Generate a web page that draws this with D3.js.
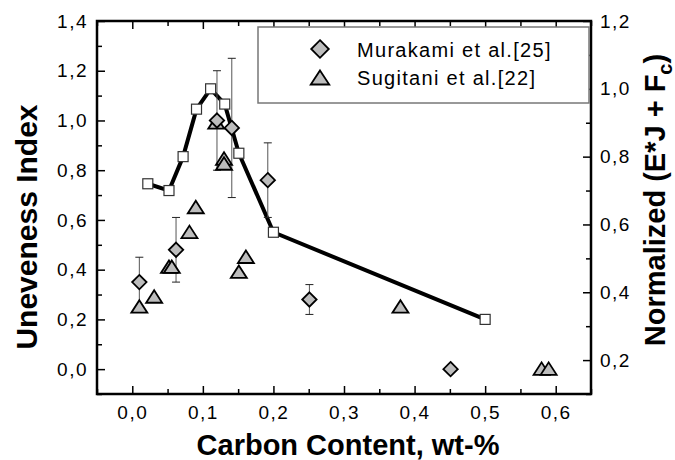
<!DOCTYPE html>
<html lang="en">
<head>
<meta charset="utf-8">
<title>Uneveness index vs carbon content</title>
<script src="https://cdn.jsdelivr.net/npm/d3@7"></script>
<style>
  body { margin: 0; background: #fff; }
  text { font-family: "Liberation Sans", Arial, sans-serif; }
</style>
</head>
<body>
<div id="chart"></div>
<script>
// normalized (E*J + Fc), right axis
var lineX = [0.022, 0.052, 0.072, 0.091, 0.111, 0.131, 0.151, 0.2, 0.5];
var lineY = [0.72, 0.70, 0.80, 0.94, 1.0, 0.955, 0.81, 0.577, 0.32];

// Murakami et al.[25], left axis
var murakamiX = [0.01, 0.062, 0.12, 0.141, 0.192, 0.251, 0.451];
var murakamiY = [0.35, 0.48, 1.0, 0.97, 0.76, 0.28, 0.0];
var murakamiErr = [0.1, 0.13, 0.2, 0.28, 0.15, 0.06, 0];

// Sugitani et al.[22], left axis
var sugitaniX = [0.01, 0.031, 0.052, 0.056, 0.081, 0.09, 0.119, 0.13, 0.13, 0.151, 0.161, 0.38, 0.58, 0.59];
var sugitaniY = [0.25, 0.29, 0.41, 0.41, 0.55, 0.65, 0.99, 0.845, 0.825, 0.39, 0.45, 0.25, 0.0, 0.0];

var xTicks = [0, 0.1, 0.2, 0.3, 0.4, 0.5, 0.6];
var xMinor = [-0.05, 0.05, 0.15, 0.25, 0.35, 0.45, 0.55, 0.65];
var yLeftTicks = [0, 0.2, 0.4, 0.6, 0.8, 1.0, 1.2, 1.4];
var yLeftMinor = [-0.1, 0.1, 0.3, 0.5, 0.7, 0.9, 1.1, 1.3];
var yRightTicks = [0.2, 0.4, 0.6, 0.8, 1.0, 1.2];
var yRightMinor = [0.1, 0.3, 0.5, 0.7, 0.9, 1.1];

var legendLabels = ['Murakami et al.[25]', 'Sugitani et al.[22]'];

var width = 675, height = 460;
var plotL = 97, plotR = 591, plotT = 21, plotB = 394;

var svg = d3.select('#chart').append('svg')
  .attr('width', width).attr('height', height);

var x = d3.scaleLinear().domain([-0.05, 0.65]).range([plotL, plotR]);
var yL = d3.scaleLinear().domain([-0.1, 1.4]).range([plotB, plotT]);
var yR = d3.scaleLinear().domain([0.1, 1.2]).range([plotB, plotT]);

var comma = function(d) { return d3.format('.1f')(d).replace('.', ','); };

function diamondPath(r) { return 'M0,' + (-r) + 'L' + r + ',0L0,' + r + 'L' + (-r) + ',0Z'; }
function trianglePath(w, h) { return 'M0,' + (-h / 2 - 0.5) + 'L' + w / 2 + ',' + (h / 2 - 0.5) + 'L' + (-w / 2) + ',' + (h / 2 - 0.5) + 'Z'; }
var diamond = diamondPath(7.2);
var triangle = trianglePath(16, 12.5);

function styleAxis(g) {
  g.select('.domain').remove();
  g.selectAll('.tick line').attr('stroke', '#000').attr('stroke-width', 1.5);
  g.selectAll('.tick text').attr('fill', '#000')
    .style('font-size', '19px').style('letter-spacing', '1.5px');
}

// bottom
svg.append('g').attr('transform', 'translate(0,' + plotB + ')')
  .call(d3.axisBottom(x).tickValues(xTicks).tickSize(-8).tickPadding(12).tickFormat(comma))
  .call(styleAxis);
svg.append('g').attr('transform', 'translate(0,' + plotB + ')')
  .call(d3.axisBottom(x).tickValues(xMinor).tickSize(-5).tickFormat(''))
  .call(styleAxis);
// top
svg.append('g').attr('transform', 'translate(0,' + plotT + ')')
  .call(d3.axisTop(x).tickValues(xTicks).tickSize(-8).tickFormat(''))
  .call(styleAxis);
svg.append('g').attr('transform', 'translate(0,' + plotT + ')')
  .call(d3.axisTop(x).tickValues(xMinor).tickSize(-5).tickFormat(''))
  .call(styleAxis);
// left
svg.append('g').attr('transform', 'translate(' + plotL + ',0)')
  .call(d3.axisLeft(yL).tickValues(yLeftTicks).tickSize(-8).tickPadding(9).tickFormat(comma))
  .call(styleAxis);
svg.append('g').attr('transform', 'translate(' + plotL + ',0)')
  .call(d3.axisLeft(yL).tickValues(yLeftMinor).tickSize(-5).tickFormat(''))
  .call(styleAxis);
// right
svg.append('g').attr('transform', 'translate(' + plotR + ',0)')
  .call(d3.axisRight(yR).tickValues(yRightTicks).tickSize(-8).tickPadding(9).tickFormat(comma))
  .call(styleAxis);
svg.append('g').attr('transform', 'translate(' + plotR + ',0)')
  .call(d3.axisRight(yR).tickValues(yRightMinor).tickSize(-5).tickFormat(''))
  .call(styleAxis);

// frame
svg.append('rect')
  .attr('x', plotL).attr('y', plotT)
  .attr('width', plotR - plotL).attr('height', plotB - plotT)
  .attr('fill', 'none').attr('stroke', '#000').attr('stroke-width', 2.5);

// legend box
svg.append('rect')
  .attr('x', 258).attr('y', 27).attr('width', 331).attr('height', 76)
  .attr('fill', '#fff').attr('stroke', '#777').attr('stroke-width', 1.5);

// normalized line
var lineData = lineX.map(function(d, i) { return [d, lineY[i]]; });
svg.append('path')
  .datum(lineData)
  .attr('fill', 'none').attr('stroke', '#000').attr('stroke-width', 4)
  .attr('stroke-linejoin', 'round')
  .attr('d', d3.line().x(function(d) { return x(d[0]); }).y(function(d) { return yR(d[1]); }));

// error bars for Murakami
var murakami = murakamiX.map(function(d, i) { return { x: d, y: murakamiY[i], e: murakamiErr[i] }; });
var bars = svg.append('g').attr('stroke', '#555').attr('stroke-width', 1);
murakami.filter(function(d) { return d.e > 0; }).forEach(function(d) {
  var cx = x(d.x);
  bars.append('line').attr('x1', cx).attr('x2', cx)
    .attr('y1', yL(d.y + d.e)).attr('y2', yL(d.y - d.e));
  [d.y + d.e, d.y - d.e].forEach(function(v) {
    bars.append('line').attr('x1', cx - 4).attr('x2', cx + 4)
      .attr('y1', yL(v)).attr('y2', yL(v)).attr('stroke', '#222');
  });
});

// Sugitani triangles
var sugitani = sugitaniX.map(function(d, i) { return { x: d, y: sugitaniY[i] }; });
svg.append('g').selectAll('path').data(sugitani).enter().append('path')
  .attr('d', triangle)
  .attr('transform', function(d) { return 'translate(' + x(d.x) + ',' + yL(d.y) + ')'; })
  .attr('fill', '#bdbdbd').attr('stroke', '#000').attr('stroke-width', 1.8);

// Murakami diamonds
svg.append('g').selectAll('path').data(murakami).enter().append('path')
  .attr('d', diamond)
  .attr('transform', function(d) { return 'translate(' + x(d.x) + ',' + yL(d.y) + ')'; })
  .attr('fill', '#bdbdbd').attr('stroke', '#000').attr('stroke-width', 1.8);

// squares on the line
svg.append('g').selectAll('rect').data(lineData).enter().append('rect')
  .attr('x', function(d) { return x(d[0]) - 5; })
  .attr('y', function(d) { return yR(d[1]) - 5; })
  .attr('width', 10).attr('height', 10)
  .attr('fill', '#fff').attr('stroke', '#333').attr('stroke-width', 1.2);

// legend entries
svg.append('path').attr('d', diamondPath(8.8)).attr('transform', 'translate(320,49)')
  .attr('fill', '#bdbdbd').attr('stroke', '#000').attr('stroke-width', 1.8);
svg.append('path').attr('d', trianglePath(18.5, 14)).attr('transform', 'translate(320,78)')
  .attr('fill', '#bdbdbd').attr('stroke', '#000').attr('stroke-width', 1.8);
svg.selectAll('.leg').data(legendLabels).enter().append('text')
  .attr('x', 357).attr('y', function(d, i) { return 57 + i * 28; })
  .style('font-size', '20px').style('letter-spacing', '1.3px')
  .text(function(d) { return d; });

// axis titles
svg.append('text')
  .attr('x', (plotL + plotR) / 2 + 4).attr('y', 455)
  .attr('text-anchor', 'middle')
  .style('font-size', '29px').style('font-weight', 'bold')
  .text('Carbon Content, wt-%');

svg.append('text')
  .attr('transform', 'translate(37,227) rotate(-90)')
  .attr('text-anchor', 'middle')
  .style('font-size', '30px').style('font-weight', 'bold')
  .text('Uneveness Index');

var rt = svg.append('text')
  .attr('transform', 'translate(665,200) rotate(-90)')
  .attr('text-anchor', 'middle')
  .style('font-size', '29px').style('font-weight', 'bold');
rt.append('tspan').text('Normalized (E*J + F');
rt.append('tspan').attr('dy', 7).style('font-size', '20px').text('c');
rt.append('tspan').attr('dy', -7).text(')');
</script>
</body>
</html>
